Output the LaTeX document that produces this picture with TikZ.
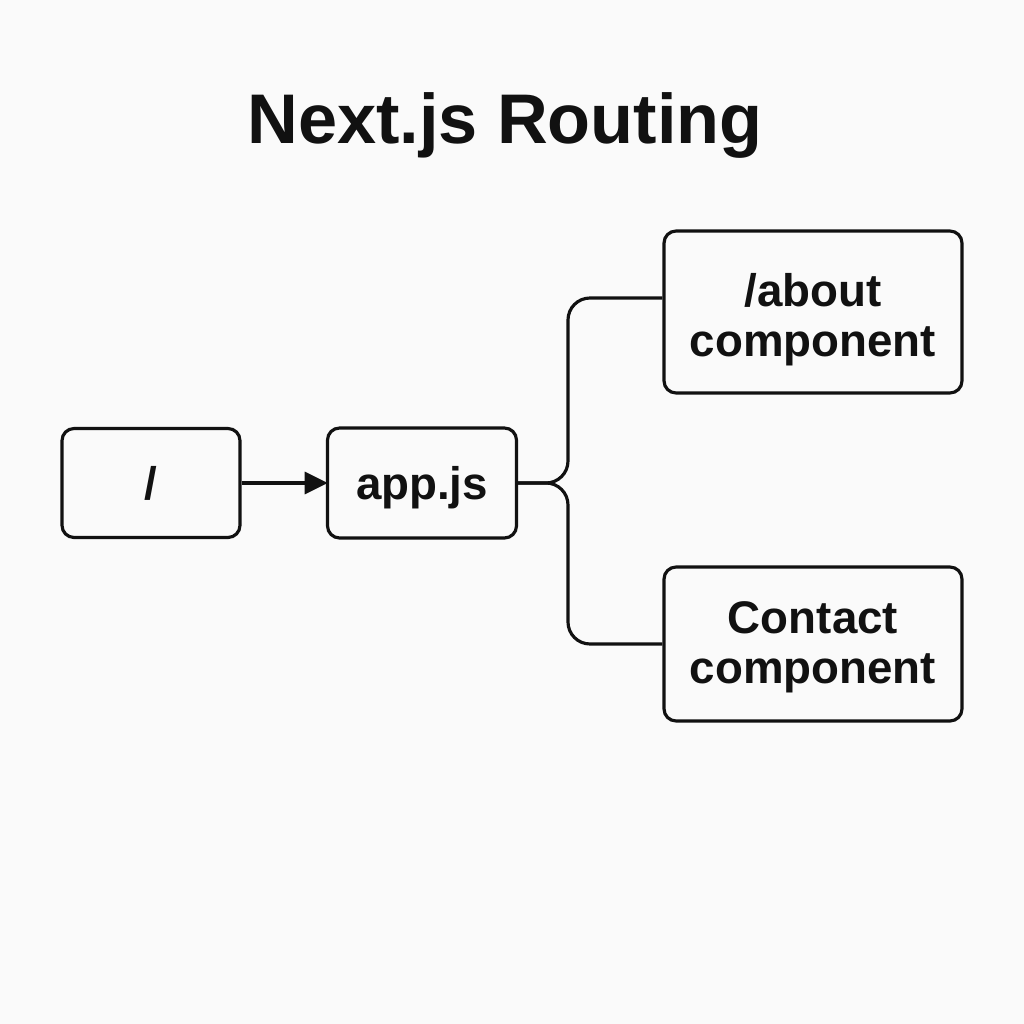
\documentclass[tikz,border=0pt]{standalone}
\usepackage{fontspec}
\setmainfont{Liberation Sans}
\usetikzlibrary{positioning,arrows.meta}
\definecolor{ink}{HTML}{111111}
\definecolor{paper}{HTML}{FAFAFA}
% first baseline raised by #1 from the node centre
\newcommand\routetext[2][-0.32cm]{\raisebox{#1}[0pt][0pt]{\begin{tabular}[t]{@{}c@{}}#2\end{tabular}}}

\begin{document}
\begin{tikzpicture}[x=0.02cm, y=-0.02cm, line width=1.8pt, draw=ink,
    route/.style={draw=ink, rounded corners=0.24cm, inner sep=0pt,
      font=\fontsize{26}{29}\selectfont\bfseries, text=ink},
    link/.style={draw=ink, line width=1.8pt}]
    \fill[paper] (0,0) rectangle (1024,1024); % background
    \node[font=\fontsize{40}{44}\selectfont\bfseries, text=ink] (title) at (505,125) {Next.js Routing};
    \node[route, minimum width=3.56cm, minimum height=2.18cm] (root) at (151,483) {\routetext{/}};
    \node[route, minimum width=3.78cm, minimum height=2.2cm] (app) at (422,483) {\routetext{app.js}};
    \node[route, minimum width=5.96cm, minimum height=3.24cm] (about) at (813,312) {\routetext[0.12cm]{/about\\component}};
    \node[route, minimum width=5.96cm, minimum height=3.08cm] (contact) at (813,644) {\routetext[0.22cm]{Contact\\component}};
    \coordinate (fork) at (568,483);
    \coordinate (aboutin) at (about.west |- 0,298);
    \draw[link, -{Triangle[length=0.46cm, width=0.44cm]}, shorten >=-1pt] (root) -- (app);
    \draw[link, rounded corners=0.44cm] (app.east) -- (fork) |- (aboutin);
    \draw[link, rounded corners=0.44cm] (app.east) -- (fork) |- (contact.west);
\end{tikzpicture}
\end{document}
